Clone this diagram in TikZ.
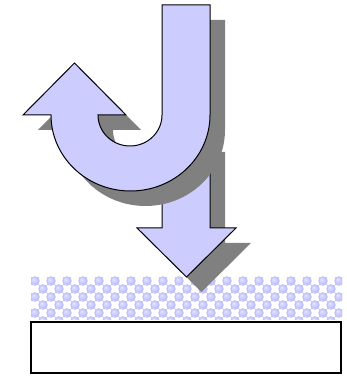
\documentclass[tikz,border=0pt]{standalone}
\begin{document}
\begin{tikzpicture}[x=1pt,y=1pt,
  arrowfill/.style={fill=arrowblue,draw=black,line width=1pt,line join=miter},
  shadowfill/.style={fill=shadowgray,draw=none}]
\definecolor{arrowblue}{RGB}{204,204,255}
\definecolor{shadowgray}{RGB}{128,128,128}
\definecolor{checkblue}{RGB}{196,196,252}
\definecolor{checkmid}{RGB}{210,210,255}
\definecolor{checklight}{RGB}{228,228,255}
\useasboundingbox (0,0) rectangle (347,377);
% patterned band
\begin{scope}
  \clip (31,57) rectangle (342,100);
  \fill[white] (31,57) rectangle (342,100);
  \foreach \i in {0,...,39} {
    \foreach \j in {0,...,5} {
      \pgfmathtruncatemacro{\cellparity}{mod(\i+\j,2)}
      \ifnum\cellparity=0
        \fill[checkblue] (31+8*\i,100-8*\j) rectangle ++(8,-8);
        \fill[checkblue] (31+8*\i+4,100-8*\j-4) circle[radius=4.8];
        \fill[checkmid] (31+8*\i+3.5,100-8*\j-3.5) circle[radius=2.8];
        \fill[checklight] (31+8*\i+3,100-8*\j-3) circle[radius=1.3];
      \fi
    }
  }
\end{scope}
% base rectangle
\draw[line width=1.5pt,fill=white] (31,4) rectangle (341,55);
% down arrow shadow and arrow
\def\downpath{(162,240) -- (210,240) -- (210,149) -- (236,149) -- (186.5,100) -- (137,149) -- (162,149) -- cycle}
\fill[shadowgray,shift={(15,-15)}] \downpath;
\draw[arrowfill] \downpath;
% J arrow shadow and arrow
\def\jpath{(162,372) -- (210,372) -- (210,262) arc[start angle=0,end angle=-180,x radius=79.5,y radius=76] -- (23,262) -- (74.5,314) -- (126,262) -- (98,262) arc[start angle=180,end angle=360,x radius=32,y radius=31] -- cycle}
\fill[shadowgray,shift={(15,-15)}] \jpath;
\draw[arrowfill] \jpath;
\end{tikzpicture}
\end{document}
